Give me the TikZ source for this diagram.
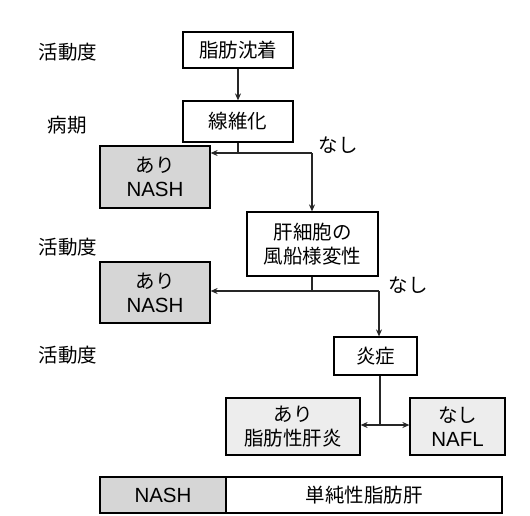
\documentclass[tikz,border=0pt]{standalone}
\usepackage{fontspec}
\setmainfont{Liberation Sans}
\newfontfamily\jp{Noto Sans CJK JP}
\usetikzlibrary{arrows.meta}
\definecolor{boxgray}{gray}{0.84}
\definecolor{lightgray2}{gray}{0.93}
\tikzset{
  box/.style={draw=black, line width=1.2pt, fill=white, inner sep=0pt, align=center, font=\fontsize{20.5}{24}\selectfont},
  graybox/.style={box, fill=boxgray},
  lbl/.style={inner sep=0pt, font=\jp\fontsize{19.5}{24}\selectfont},
  conn/.style={line width=1.2pt, draw=black!85},
  arr/.style={conn, -{Stealth[length=7pt,width=6pt]}},
  darr/.style={conn, {Stealth[length=7pt,width=6pt]}-{Stealth[length=7pt,width=6pt]}}
}
\newcommand\jt{\jp\fontsize{19.5}{24}\selectfont}
\begin{document}
\begin{tikzpicture}[x=1pt,y=-1pt]
\useasboundingbox (0,0) rectangle (530,515);
\fill[white] (0,0) rectangle (530,515);

% row labels
\node[lbl] (l1) at (68,52) {活動度};
\node[lbl] (l2) at (67,125) {病期};
\node[lbl] (l3) at (68,247) {活動度};
\node[lbl] (l4) at (68,355) {活動度};

% boxes
\node[box, minimum width=110pt, minimum height=36pt] (fat) at (238,50) {\jt 脂肪沈着};
\node[box, minimum width=110pt, minimum height=41pt] (fib) at (238,121.5) {\jt 線維化};
\node[graybox, minimum width=110pt, minimum height=62pt] (nash1) at (155,177) {{\jt あり}\\NASH};
\node[box, minimum width=131pt, minimum height=64pt] (hep) at (312.5,244) {\jt 肝細胞の\\\jt 風船様変性};
\node[graybox, minimum width=110pt, minimum height=61pt] (nash2) at (155,292.5) {{\jt あり}\\NASH};
\node[box, minimum width=83pt, minimum height=38pt] (inf) at (375.5,356) {\jt 炎症};
\node[box, fill=lightgray2, minimum width=134pt, minimum height=57pt] (sh) at (293,426.5) {{\jt あり}\\\jt 脂肪性肝炎};
\node[box, fill=lightgray2, minimum width=95pt, minimum height=57pt] (nafl) at (457.5,426.5) {{\jt なし}\\NAFL};

% bottom bar
\node[graybox, minimum width=126pt, minimum height=36pt] (barnash) at (163,495) {NASH};
\node[box, minimum width=276pt, minimum height=36pt] (barsimple) at (364,495) {\jt 単純性脂肪肝};

% "nashi" labels
\node[lbl] (n1) at (338,145) {なし};
\node[lbl] (n2) at (408,285) {なし};

% junction coordinates
\coordinate (j1) at (312,153);
\coordinate (j2) at (379,291);
\coordinate (j3) at (380,425);

% connectors
\draw[arr] (fat) -- (fib);
\draw[conn] (fib.south) -- (fib.south |- j1);
\draw[arr] (j1) -- (nash1.east |- j1);
\draw[arr] (j1) -- (j1 |- hep.north);
\draw[conn] (hep.south -| j1) -- (j1 |- j2);
\draw[arr] (j2) -- (nash2.east |- j2);
\draw[arr] (j2) -- (j2 |- inf.north);
\draw[conn] (j3 |- inf.south) -- (j3);
\draw[darr] (sh.east |- j3) -- (nafl.west |- j3);
\end{tikzpicture}
\end{document}
